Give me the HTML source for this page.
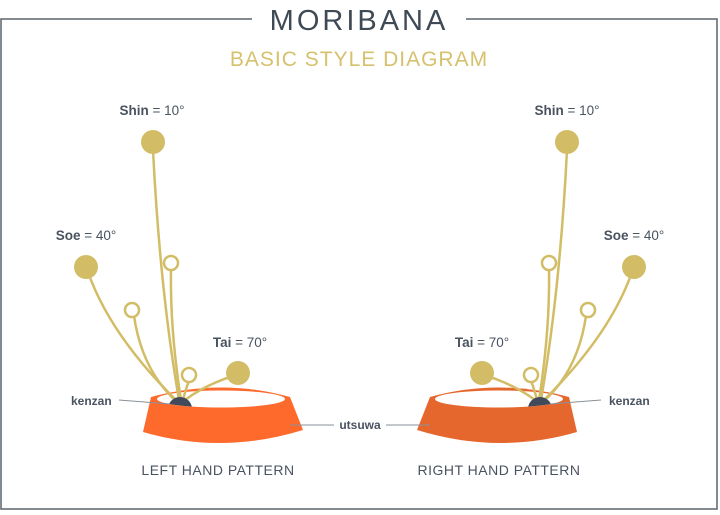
<!DOCTYPE html>
<html><head><meta charset="utf-8"><style>
html,body{margin:0;padding:0;background:#fff;}
svg{display:block;font-family:"Liberation Sans",sans-serif;}
</style></head><body>
<svg width="720" height="515" viewBox="0 0 720 515">
  <path d="M252,19 H1 V509 H717 V19 H466" fill="none" stroke="#5a636c" stroke-width="1.5"/>
  <text x="359" y="30" text-anchor="middle" font-size="29" fill="#3f4a55" letter-spacing="3">MORIBANA</text>
  <text x="359" y="66" text-anchor="middle" font-size="21" fill="#d6c16d" letter-spacing="1">BASIC STYLE DIAGRAM</text>

  <defs>
    <clipPath id="inner"><ellipse cx="221" cy="399" rx="64" ry="8.5"/></clipPath>
    <g id="kz">
      <circle cx="180" cy="409" r="12" fill="#3f4a5a" clip-path="url(#inner)"/>
    </g>
    <g id="arr">
      <g fill="none" stroke="#d2bd66" stroke-width="2.5">
        <path d="M179,400 Q160,290 153,150"/>
        <path d="M177,401 Q110,335 88,272"/>
        <path d="M176,401 Q142,370 134,316"/>
        <path d="M181,400 Q170,330 171,270"/>
        <path d="M183,400 Q186,388 189,381"/>
        <path d="M185,400 Q205,385 233,376"/>
      </g>
      <circle cx="153" cy="142" r="12" fill="#d2bd66"/>
      <circle cx="86" cy="267" r="12" fill="#d2bd66"/>
      <circle cx="238" cy="373" r="12" fill="#d2bd66"/>
      <circle cx="132" cy="310" r="7" fill="#fff" stroke="#d2bd66" stroke-width="2.5"/>
      <circle cx="171" cy="263" r="7" fill="#fff" stroke="#d2bd66" stroke-width="2.5"/>
      <circle cx="189" cy="375" r="7" fill="#fff" stroke="#d2bd66" stroke-width="2.5"/>
    </g>
  </defs>

  <g>
    <path d="M151,397 Q222,378 290,397 L303,430 Q222,455 143,432 Z" fill="#fd6a2c"/>
    <ellipse cx="221" cy="399" rx="64" ry="8.5" fill="#fff"/>
    <use href="#arr"/>
    <use href="#kz"/>
  </g>
  <g transform="translate(720,0) scale(-1,1)">
    <path d="M151,397 Q222,378 290,397 L303,430 Q222,455 143,432 Z" fill="#e6672e"/>
    <ellipse cx="221" cy="399" rx="64" ry="8.5" fill="#fff"/>
    <use href="#arr"/>
    <use href="#kz"/>
  </g>

  <g fill="#4a5360" font-size="13.5">
    <text x="152" y="115" text-anchor="middle"><tspan font-weight="bold">Shin</tspan> = 10°</text>
    <text x="86" y="240" text-anchor="middle"><tspan font-weight="bold">Soe</tspan> = 40°</text>
    <text x="240" y="347" text-anchor="middle"><tspan font-weight="bold">Tai</tspan> = 70°</text>
    <text x="567" y="115" text-anchor="middle"><tspan font-weight="bold">Shin</tspan> = 10°</text>
    <text x="634" y="240" text-anchor="middle"><tspan font-weight="bold">Soe</tspan> = 40°</text>
    <text x="482" y="347" text-anchor="middle"><tspan font-weight="bold">Tai</tspan> = 70°</text>
    <text x="71" y="405" font-size="12" font-weight="bold">kenzan</text>
    <text x="609" y="405" font-size="12" font-weight="bold">kenzan</text>
    <text x="360" y="429" text-anchor="middle" font-size="12" font-weight="bold">utsuwa</text>
    <text x="218" y="475" text-anchor="middle" font-size="14" letter-spacing="0.5">LEFT HAND PATTERN</text>
    <text x="499" y="475" text-anchor="middle" font-size="14" letter-spacing="0.5">RIGHT HAND PATTERN</text>
  </g>
  <g stroke="#8a9098" stroke-width="1">
    <line x1="119" y1="400" x2="170" y2="404"/>
    <line x1="601" y1="400" x2="550" y2="404"/>
    <line x1="290" y1="425" x2="334" y2="425"/>
    <line x1="386" y1="425" x2="430" y2="425"/>
  </g>
</svg>
</body></html>
